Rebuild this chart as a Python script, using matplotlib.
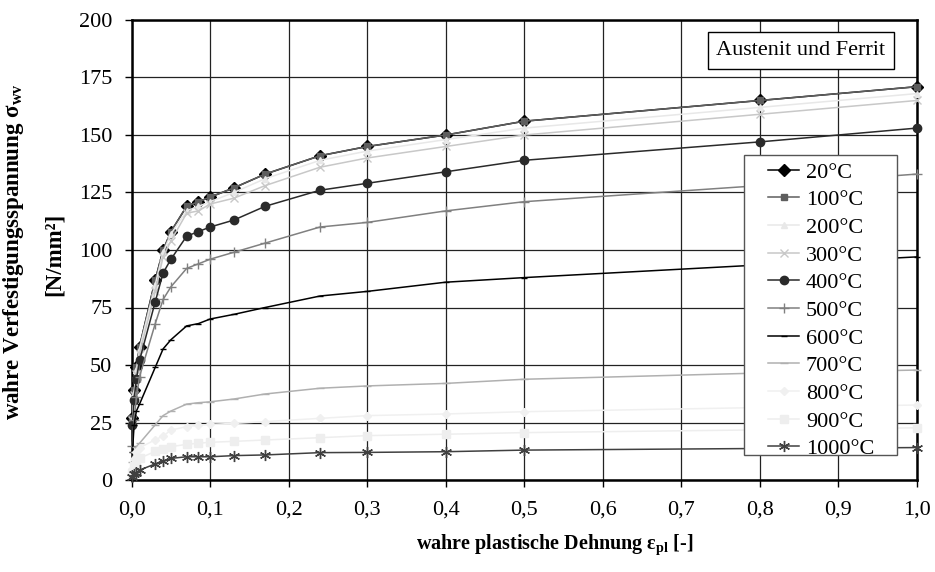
import matplotlib
matplotlib.use("Agg")
import matplotlib.pyplot as plt
from matplotlib.patches import Rectangle
from matplotlib.ticker import FuncFormatter, MultipleLocator

plt.rcParams["font.family"] = ["Liberation Serif", "DejaVu Serif"]
plt.rcParams["mathtext.fontset"] = "custom"
plt.rcParams["mathtext.rm"] = "Liberation Serif"
plt.rcParams["mathtext.bf"] = "Liberation Serif:bold"
plt.rcParams["mathtext.it"] = "Liberation Serif:italic"

# plastic strain sample points (shared by all temperatures)
strain = [0.001, 0.003, 0.006, 0.01, 0.03, 0.04, 0.05, 0.07, 0.085, 0.1,
          0.13, 0.17, 0.24, 0.3, 0.4, 0.5, 0.8, 1.0]

temps = ["20°C", "100°C", "200°C", "300°C", "400°C", "500°C",
         "600°C", "700°C", "800°C", "900°C", "1000°C"]

s20 = [27, 39, 49, 58, 87, 100, 108, 119, 121, 123, 127, 133, 141, 145, 150, 156, 165, 171]
s100 = [27, 39, 49, 58, 87, 100, 108, 119, 121, 123, 127, 133, 141, 145, 150, 156, 165, 171]
s200 = [26, 38, 48, 57, 85, 99, 107, 117, 119, 121, 125, 131, 139, 143, 148, 153, 162, 168]
s300 = [26, 37, 46, 55, 82, 97, 104, 116, 117, 120, 122.5, 128, 136, 140, 145, 150, 159, 165]
s400 = [24, 35, 44, 52, 77.5, 90, 96, 106, 108, 110, 113, 119, 126, 129, 134, 139, 147, 153]
s500 = [15, 26, 36, 45, 68, 78.5, 84, 92, 94, 96, 99, 103, 110, 112, 117, 121, 128, 133]
s600 = [12, 24, 30, 33, 49, 57, 61, 67, 68, 70, 72, 75, 80, 82, 86, 88, 93.5, 97]
s700 = [8, 12, 14.5, 16, 24, 28, 30, 33, 33.6, 34, 35.2, 37.4, 39.9, 40.9, 42, 43.8, 46.5, 47.8]
s800 = [5, 9, 12, 14, 17.5, 19.1, 21.7, 23.2, 23.8, 24.2, 24.6, 25.4, 26.8, 28, 28.7, 29.7, 31.5, 32.6]
s900 = [3, 6, 8, 9.5, 12.4, 13.3, 14.5, 15.5, 16, 16.4, 16.8, 17.4, 18.4, 19.3, 19.9, 20.6, 21.8, 22.7]
s1000 = [1.4, 2.5, 3.2, 4.3, 7, 8.3, 9.4, 10.1, 10.1, 10.1, 10.6, 10.9, 11.9, 12, 12.3, 13, 13.7, 14.1]

series = [s20, s100, s200, s300, s400, s500, s600, s700, s800, s900, s1000]

# line colour, marker, marker size
styles = [
    ("#000000", "D", 6),
    ("#5e5e5e", "s", 5),
    ("#e8e8e8", "^", 5),
    ("#c8c8c8", "x", 6),
    ("#2a2a2a", "o", 6),
    ("#808080", "+", 7),
    ("#000000", "_", 5),
    ("#b0b0b0", "_", 6),
    ("#f0f0f0", "D", 4),
    ("#eeeeee", "s", 6),
    ("#404040", (6, 2, 0), 8),
]

W, H = 935, 572
fig = plt.figure(figsize=(W / 100, H / 100), dpi=100)
ax = fig.add_axes([131.7 / W, (H - 480) / H, 785 / W, 460 / H])

for lab, ys, (col, mk, ms) in zip(temps, series, styles):
    ax.plot(strain, ys, color=col, marker=mk, markersize=ms, linewidth=1.1,
            markeredgecolor=col, markerfacecolor=col, label=lab,
            clip_on=False, zorder=3)

ax.set_xlim(0, 1.0)
ax.set_ylim(0, 200)
ax.xaxis.set_major_locator(MultipleLocator(0.1))
ax.yaxis.set_major_locator(MultipleLocator(25))
ax.xaxis.set_major_formatter(FuncFormatter(lambda v, p: f"{v:.1f}".replace(".", ",")))
ax.grid(True, color="#222222", linewidth=0.9)
ax.set_axisbelow(True)
for sp in ax.spines.values():
    sp.set_linewidth(1.8)
ax.tick_params(direction="out", length=5, width=1, labelsize=16)
ax.tick_params(axis="x", pad=10)
ax.tick_params(axis="y", pad=9)

# axis titles placed by hand
fig.text(555 / W, 1 - 545 / H, r"wahre plastische Dehnung ε$_{\mathbf{pl}}$ [-]",
         ha="center", va="center", fontsize=14.5, fontweight="bold")
fig.text(14 / W, 1 - 252 / H, "wahre Verfestigungsspannung σ$_{\\mathbf{wv}}$",
         rotation=90, ha="center", va="center", fontsize=16.5, fontweight="bold")
fig.text(54 / W, 1 - 254 / H, "[N/mm²]", rotation=90, ha="center", va="center",
         fontsize=16.5, fontweight="bold")

# legend frame drawn separately (wide side padding, tight top/bottom)
ax.add_patch(Rectangle((0.780, 0.0543), 0.195, 0.6522, transform=ax.transAxes,
                       facecolor="white", edgecolor="#555555", linewidth=1.0,
                       zorder=4.5))
leg = ax.legend(loc="upper left", bbox_to_anchor=(0.8106, 0.6913), borderaxespad=0,
                fontsize=16, frameon=False, handlelength=1.4, labelspacing=0.32,
                borderpad=0, handletextpad=0.3)
leg.set_zorder(5)

ax.text(0.8526, 0.9337, "Austenit und Ferrit", transform=ax.transAxes, fontsize=16,
        ha="center", va="center", zorder=5,
        bbox=dict(boxstyle="square,pad=0.4", facecolor="white", edgecolor="black",
                  linewidth=1.0))

fig.savefig("out.png", dpi=100)
